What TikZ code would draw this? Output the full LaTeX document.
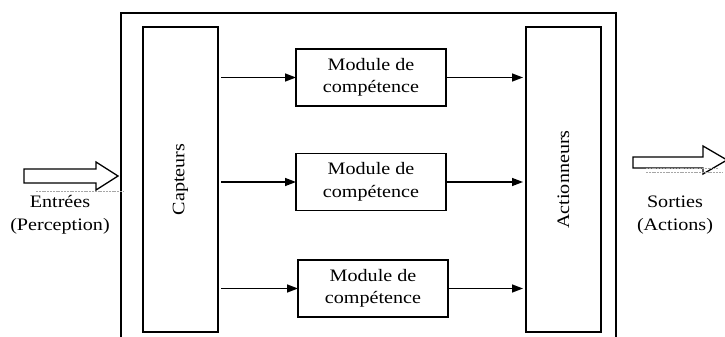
\documentclass[tikz,border=0pt]{standalone}
\usepackage{fontspec}
\setmainfont{Liberation Serif}[FakeStretch=1.15]
\usetikzlibrary{arrows.meta}
\begin{document}
\begin{tikzpicture}[x=1pt,y=-1pt,
  every node/.style={inner sep=0pt,outer sep=0pt},
  lbl/.style={font=\fontsize{17.5}{22.5}\selectfont,align=center},
  box/.style={draw,line width=1.4pt,fill=white},
  modbox/.style={box,minimum width=150pt,minimum height=57pt,lbl},
  tall/.style={box,minimum width=75pt,minimum height=305pt},
  flow/.style={line width=1.4pt,-{Triangle[length=11pt,width=8pt]}},
  bigarrow/.style={draw,line width=1.3pt,fill=white,line join=miter},
  scan/.style={draw=gray!70,line width=0.7pt,dash pattern=on 2pt off 0.8pt}
]
\useasboundingbox (0,0) rectangle (725,337);

% outer frame (its lower edge lies below the page)
\draw[line width=1.4pt] (121,350) -- (121,13) -- (616,13) -- (616,350);

% sensor and actuator columns
\node[tall] (capt) at (180.5,179.5) {};
\node[rotate=90,lbl] at (capt.center) {Capteurs};
\node[tall] (act) at (563.5,179.5) {};
\node[rotate=90,lbl] at (act.center) {Actionneurs};

% competence modules
\node[modbox] (m1) at (371,77.5) {Module de\\compétence};
\node[modbox] (m2) at (371,182) {Module de\\compétence};
\node[modbox] (m3) at (373,288.5) {Module de\\compétence};

% connections
\foreach \m in {m1,m2,m3}{
  \draw[flow,shorten <=3pt] (capt.east |- \m.west) -- (\m.west);
  \draw[flow,shorten >=3pt] (\m.east) -- (act.west |- \m.east);
}

% input block arrow
\draw[bigarrow] (24,169) -- (96,169) -- (96,162) -- (118,176)
  -- (96,190) -- (96,183) -- (24,183) -- cycle;
\draw[scan] (36,191) -- (123,191);
\node[lbl] (inlbl) at (60,215) {Entrées\\(Perception)};

% output block arrow
\draw[bigarrow] (633,157) -- (703,157) -- (703,146) -- (727,160)
  -- (703,174) -- (703,168) -- (633,168) -- cycle;
\draw[scan] (646,168.5) -- (718,168.5);
\draw[scan] (646,172) -- (722,172);
\node[lbl] (outlbl) at (675,215) {Sorties\\(Actions)};
\end{tikzpicture}
\end{document}
